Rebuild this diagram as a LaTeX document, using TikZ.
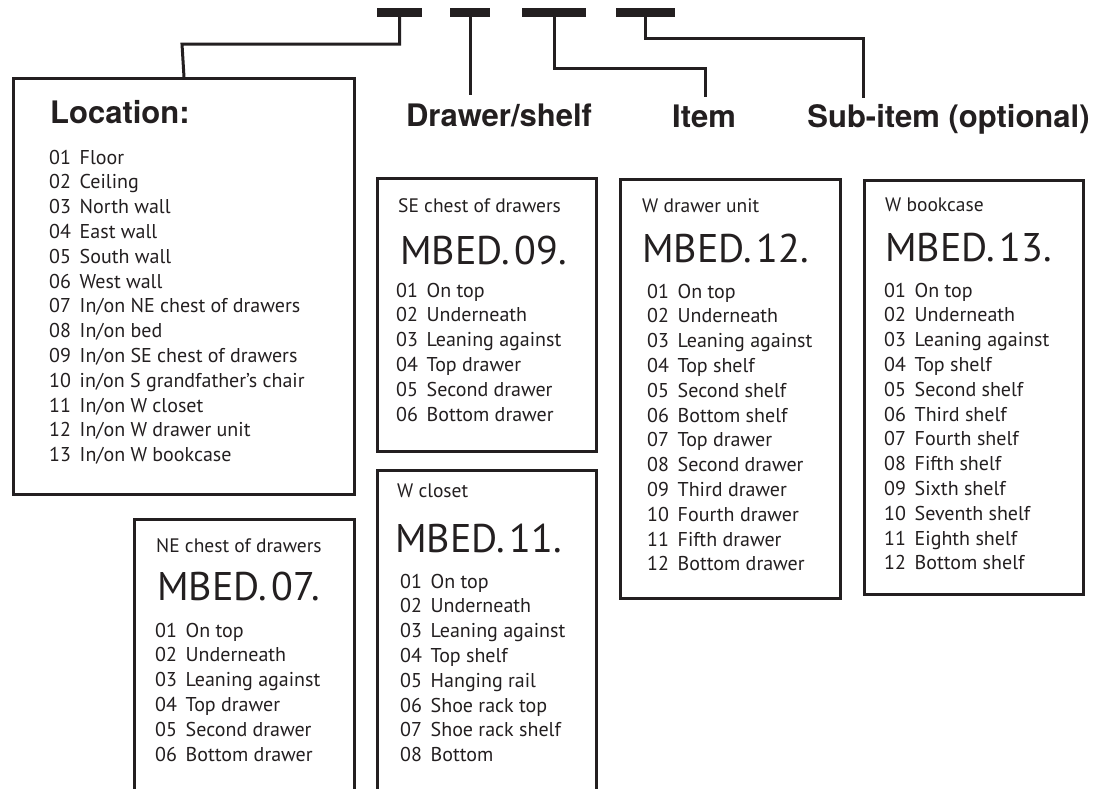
\documentclass[tikz,border=0pt]{standalone}
\usepackage{fontspec}
\setmainfont{PT Sans}
\newfontfamily\labelfont{TeX Gyre Heros}
\definecolor{ink}{HTML}{231F20}

% numbered list: code column + description column
\newcommand\codelist[1]{{\fontsize{20}{24.8}\selectfont
  \begin{tabular}[t]{@{}p{30.5pt}@{}l@{}}#1\end{tabular}}}
\newcommand\mbed[1]{MBED.\hspace{0.12em}#1.}

\tikzset{
  box/.style={draw=ink, line width=3pt, anchor=north west, inner sep=0pt},
  bar/.style={fill=ink, inner sep=0pt, minimum height=9pt},
  link/.style={draw=ink, line width=3pt},
  fieldlbl/.style={font=\labelfont\bfseries\fontsize{31}{31}\selectfont, text=ink, inner sep=0pt},
  boxhead/.style={font=\fontsize{19.5}{19.5}\selectfont, text=ink, anchor=base west, inner sep=0pt},
  codetxt/.style={font=\fontsize{40}{40}\selectfont, text=ink, anchor=base west, inner sep=0pt},
  listtxt/.style={text=ink, anchor=base west, inner sep=0pt},
}

\begin{document}
\begin{tikzpicture}[x=1pt, y=-1pt]
\clip (0,0) rectangle (1096,788);
\fill[white] (0,0) rectangle (1096,788);

% code segments
\node[bar, minimum width=45pt] (bar1) at (399.5,12.5) {};
\node[bar, minimum width=40pt] (bar2) at (470,12.5) {};
\node[bar, minimum width=64pt] (bar3) at (554,12.5) {};
\node[bar, minimum width=59pt] (bar4) at (645.5,12.5) {};

% field labels
\node[fieldlbl, anchor=base] (ldrawer) at (499,126) {Drawer/shelf};
\node[fieldlbl, anchor=base] (litem) at (704,127) {Item};
\node[fieldlbl, anchor=base] (lsub) at (948.5,127) {Sub-item (optional)};

% location box
\node[box, minimum width=341pt, minimum height=416pt] (loc) at (12,77) {};
\node[fieldlbl, anchor=base west] (lloc) at (50,123) {Location:};
\node[listtxt] (loclist) at (49,164) {\codelist{
01 & Floor\\
02 & Ceiling\\
03 & North wall\\
04 & East wall\\
05 & South wall\\
06 & West wall\\
07 & In/on NE chest of drawers\\
08 & In/on bed\\
09 & In/on SE chest of drawers\\
10 & in/on S grandfather’s chair\\
11 & In/on W closet\\
12 & In/on W drawer unit\\
13 & In/on W bookcase}};

% connectors
\coordinate (k1) at (182,44);
\draw[link] (bar1.south) |- (k1) -- (loc.north);
\coordinate (k2) at (470,95);
\draw[link] (bar2.south) -- (k2);
\coordinate (k3) at (705,68);
\coordinate (k3e) at (705,97);
\draw[link] (bar3.south) |- (k3) -- (k3e);
\coordinate (k4) at (863,38);
\coordinate (k4e) at (863,98);
\draw[link] (bar4.south) |- (k4) -- (k4e);

% SE chest of drawers
\node[box, minimum width=219pt, minimum height=273pt] (se) at (376,177) {};
\node[boxhead] (sehead) at (398,212) {SE chest of drawers};
\node[codetxt] (secode) at (400,264) {\mbed{09}};
\node[listtxt] (selist) at (396,297) {\codelist{
01 & On top\\
02 & Underneath\\
03 & Leaning against\\
04 & Top drawer\\
05 & Second drawer\\
06 & Bottom drawer}};

% W drawer unit
\node[box, minimum width=220pt, minimum height=419pt] (wd) at (619,178) {};
\node[boxhead] (wdhead) at (642,212) {W drawer unit};
\node[codetxt] (wdcode) at (642,262) {\mbed{12}};
\node[listtxt] (wdlist) at (647,298) {\codelist{
01 & On top\\
02 & Underneath\\
03 & Leaning against\\
04 & Top shelf\\
05 & Second shelf\\
06 & Bottom shelf\\
07 & Top drawer\\
08 & Second drawer\\
09 & Third drawer\\
10 & Fourth drawer\\
11 & Fifth drawer\\
12 & Bottom drawer}};

% W bookcase
\node[box, minimum width=219pt, minimum height=414pt] (wb) at (863,179) {};
\node[boxhead] (wbhead) at (885,211) {W bookcase};
\node[codetxt] (wbcode) at (885,261) {\mbed{13}};
\node[listtxt] (wblist) at (884,297) {\codelist{
01 & On top\\
02 & Underneath\\
03 & Leaning against\\
04 & Top shelf\\
05 & Second shelf\\
06 & Third shelf\\
07 & Fourth shelf\\
08 & Fifth shelf\\
09 & Sixth shelf\\
10 & Seventh shelf\\
11 & Eighth shelf\\
12 & Bottom shelf}};

% NE chest of drawers
\node[box, minimum width=220pt, minimum height=300pt] (ne) at (133,518) {};
\node[boxhead] (nehead) at (156,552) {NE chest of drawers};
\node[codetxt] (necode) at (157,600) {\mbed{07}};
\node[listtxt] (nelist) at (155,637) {\codelist{
01 & On top\\
02 & Underneath\\
03 & Leaning against\\
04 & Top drawer\\
05 & Second drawer\\
06 & Bottom drawer}};

% W closet
\node[box, minimum width=219pt, minimum height=350pt] (wc) at (376,469) {};
\node[boxhead] (wchead) at (397,497) {W closet};
\node[codetxt] (wccode) at (395,552) {\mbed{11}};
\node[listtxt] (wclist) at (400,588) {\codelist{
01 & On top\\
02 & Underneath\\
03 & Leaning against\\
04 & Top shelf\\
05 & Hanging rail\\
06 & Shoe rack top\\
07 & Shoe rack shelf\\
08 & Bottom}};
\end{tikzpicture}
\end{document}
